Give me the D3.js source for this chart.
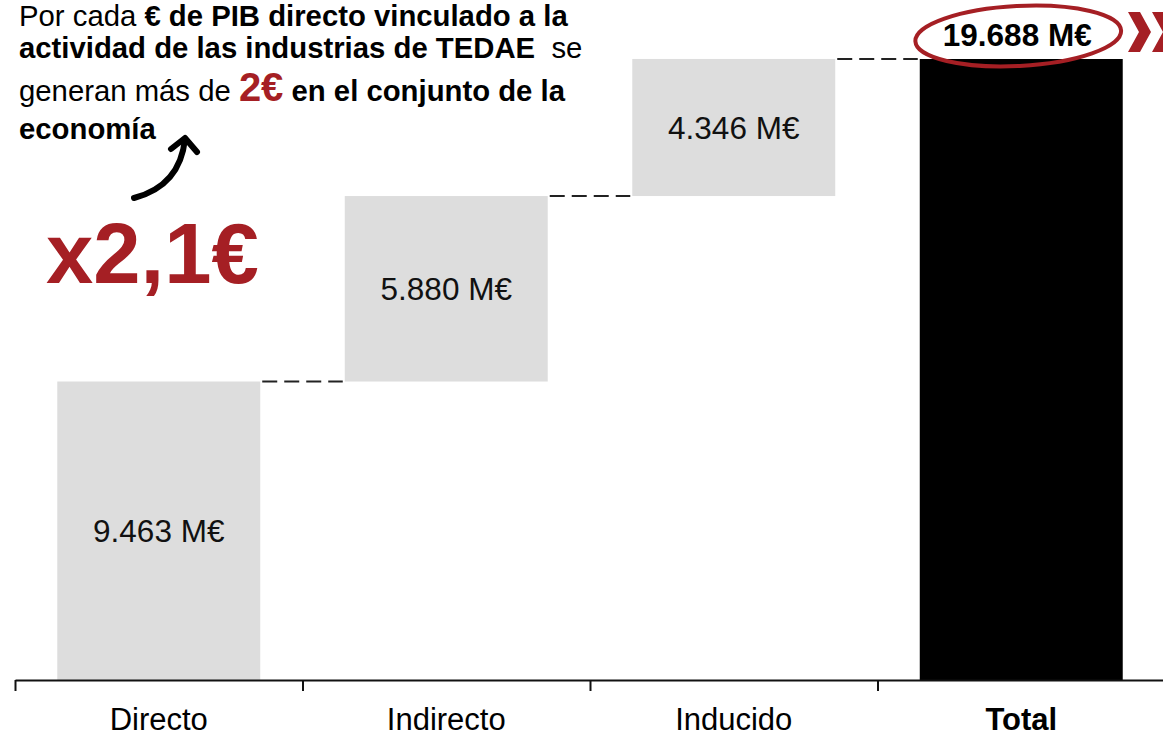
<!DOCTYPE html>
<html>
<head>
<meta charset="utf-8">
<script src="https://cdn.jsdelivr.net/npm/d3@7"></script>
<style>
  html, body { margin: 0; padding: 0; background: #fff; }
  svg { display: block; font-family: Arial, "Liberation Sans", sans-serif; }
</style>
</head>
<body>
<div id="chart"></div>
<script>
// Data
const categories = ["Directo", "Indirecto", "Inducido", "Total"];
const values = [9463, 5880, 4346, 19688];
const valueLabels = ["9.463 M€", "5.880 M€", "4.346 M€", "19.688 M€"];
const isTotal = [false, false, false, true];

const width = 1163, height = 737;
const red = "#a51f24";

const svg = d3.select("#chart").append("svg")
    .attr("width", width)
    .attr("height", height);

// build waterfall steps
let run = 0;
const steps = categories.map((c, i) => {
    let start, end;
    if (isTotal[i]) { start = 0; end = values[i]; }
    else { start = run; end = run + values[i]; run = end; }
    return { cat: c, start, end, label: valueLabels[i], total: isTotal[i] };
});

const x = d3.scaleBand().domain(categories).range([15, 1165]).padding(0);
const barFrac = 0.706;
const y = d3.scaleLinear().domain([0, 19688]).range([680, 59]);

const bx = d => x(d.cat) + x.bandwidth() * (1 - barFrac) / 2;
const bw = x.bandwidth() * barFrac;

// bars
svg.selectAll("rect.bar")
    .data(steps)
    .enter()
    .append("rect")
    .attr("class", "bar")
    .attr("x", bx)
    .attr("width", bw)
    .attr("y", d => y(d.end))
    .attr("height", d => y(d.start) - y(d.end))
    .style("fill", d => d.total ? "#000" : "#dddddd");

// connector dashes
svg.selectAll("line.conn")
    .data(steps.slice(0, -1))
    .enter()
    .append("line")
    .attr("class", "conn")
    .attr("x1", d => bx(d) + bw + 2)
    .attr("x2", (d, i) => bx(steps[i + 1]) - 2)
    .attr("y1", d => y(d.end))
    .attr("y2", d => y(d.end))
    .style("stroke", "#222")
    .style("stroke-width", 2)
    .style("stroke-dasharray", "15,7");

// value labels inside grey bars
svg.selectAll("text.val")
    .data(steps.filter(d => !d.total))
    .enter()
    .append("text")
    .attr("class", "val")
    .attr("x", d => bx(d) + bw / 2)
    .attr("y", d => (y(d.start) + y(d.end)) / 2)
    .attr("dy", "0.37em")
    .attr("text-anchor", "middle")
    .style("font-size", "31.5px")
    .style("fill", "#111")
    .text(d => d.label);

// total label + ellipse
const tot = steps[steps.length - 1];
const tcx = bx(tot) + bw / 2 - 4;
svg.append("ellipse")
    .attr("cx", tcx + 1)
    .attr("cy", 36)
    .attr("rx", 103)
    .attr("ry", 30)
    .attr("transform", `rotate(-3, ${tcx}, 36)`)
    .style("fill", "none")
    .style("stroke", red)
    .style("stroke-width", 4);
svg.append("text")
    .attr("x", tcx)
    .attr("y", 46)
    .attr("text-anchor", "middle")
    .style("font-size", "31.5px")
    .style("font-weight", "bold")
    .style("fill", "#000")
    .text(tot.label);

// chevrons
[1128, 1152].forEach(cx => {
    svg.append("path")
        .attr("d", `M${cx},12 L${cx + 12},12 L${cx + 23},32 L${cx + 12},52 L${cx},52 L${cx + 11},32 Z`)
        .style("fill", red);
});

// axis
const xi = d3.scaleLinear().domain([0, 4]).range([15, 1165]);
const axis = svg.append("g")
    .attr("transform", "translate(0,680)")
    .call(d3.axisBottom(xi).tickValues([0, 1, 2, 3]).tickFormat("").tickSize(11).tickSizeOuter(0));
axis.select(".domain").style("stroke", "#111").style("stroke-width", 2);
axis.selectAll(".tick line").style("stroke", "#111").style("stroke-width", 2);

svg.selectAll("text.cat")
    .data(steps)
    .enter()
    .append("text")
    .attr("class", "cat")
    .attr("x", d => x(d.cat) + x.bandwidth() / 2)
    .attr("y", 730)
    .attr("text-anchor", "middle")
    .style("font-size", "31px")
    .style("font-weight", d => d.total ? "bold" : "normal")
    .style("fill", "#000")
    .text(d => d.cat);

// headline text
const lines = [
    { y: 26, parts: [["Por cada ", "normal"], ["€ de PIB directo vinculado a la", "bold"]] },
    { y: 58, parts: [["actividad de las industrias de TEDAE", "bold"], ["\u00a0 se", "normal"]] },
    { y: 101, parts: [["generan más de ", "normal"], ["2€", "big"], [" en el conjunto de la", "bold"]] },
    { y: 139, parts: [["economía", "bold"]] }
];
lines.forEach(l => {
    const t = svg.append("text")
        .attr("x", 19)
        .attr("y", l.y)
        .style("font-size", "29.3px")
        .style("fill", "#000");
    l.parts.forEach(p => {
        const s = t.append("tspan").text(p[0]);
        if (p[1] === "bold") s.style("font-weight", "bold");
        if (p[1] === "big") s.style("font-weight", "bold").style("font-size", "40px").style("fill", red);
    });
});

// curved arrow
svg.append("path")
    .attr("d", "M134,198 Q180,186 185,139")
    .style("fill", "none")
    .style("stroke", "#000")
    .style("stroke-width", 6)
    .style("stroke-linecap", "round");
svg.append("path")
    .attr("d", "M171,149 L185,138 L197,152")
    .style("fill", "none")
    .style("stroke", "#000")
    .style("stroke-width", 6)
    .style("stroke-linecap", "round")
    .style("stroke-linejoin", "round");

// big multiplier
svg.append("text")
    .attr("x", 46)
    .attr("y", 283)
    .style("font-size", "85px")
    .style("font-weight", "bold")
    .style("fill", red)
    .text("x2,1€");
</script>
</body>
</html>
